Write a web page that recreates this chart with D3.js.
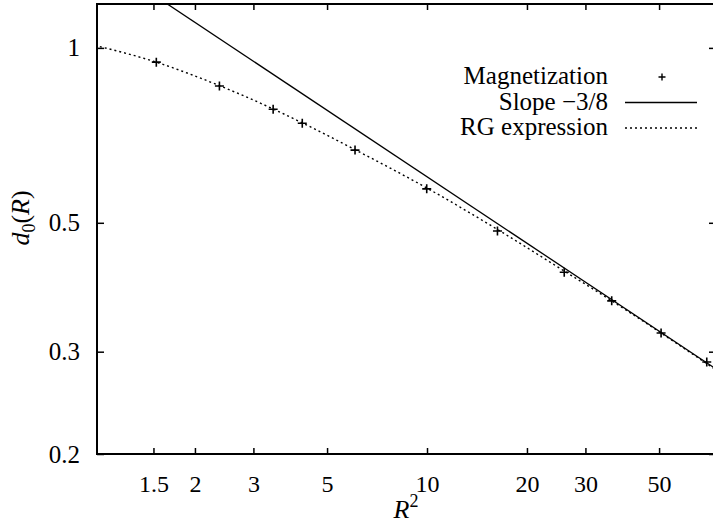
<!DOCTYPE html>
<html>
<head>
<meta charset="utf-8">
<script src="https://cdn.jsdelivr.net/npm/d3@7"></script>
<style>
  body { margin: 0; background: #fff; }
  svg { display: block; }
  text { font-family: "Liberation Serif", "Times New Roman", serif; fill: #000; }
</style>
</head>
<body>
<svg width="713" height="525"></svg>
<script>
// values (log-log plot)
const X_TICKS = [1.5, 2, 3, 5, 10, 20, 30, 50];
const Y_TICKS = [0.2, 0.3, 0.5, 1];
const X_DOMAIN = [1.014, 74.2];
const Y_DOMAIN = [0.2, 1.19];

const magR2 = [1.53, 2.37, 3.44, 4.21, 6.07, 9.98, 16.3, 25.9, 36.0, 50.7, 69.6];
const magD0 = [0.945, 0.860, 0.784, 0.742, 0.667, 0.572, 0.484, 0.411, 0.367, 0.323, 0.288];

const slopeR2 = [1.0, 75];
const slopeD0 = [1.44, 0.279];

const rgR2 = [1.0, 1.53, 2.37, 3.44, 4.21, 6.07, 9.98, 16.3, 25.9, 36.0, 50.7, 75];
const rgD0 = [1.01, 0.945, 0.861, 0.785, 0.743, 0.668, 0.574, 0.487, 0.413, 0.367, 0.323, 0.278];

const LEGEND = ['Magnetization', 'Slope \u22123/8', 'RG expression'];

const svg = d3.select('svg');
const margin = { top: 4, right: -3, bottom: 71, left: 97 };
const width = +svg.attr('width') - margin.left - margin.right;
const height = +svg.attr('height') - margin.top - margin.bottom;
const g = svg.append('g').attr('transform', `translate(${margin.left},${margin.top})`);

const x = d3.scaleLog().domain(X_DOMAIN).range([0, width]);
const y = d3.scaleLog().domain(Y_DOMAIN).range([height, 0]);

svg.append('defs').append('clipPath').attr('id', 'clip')
  .append('rect').attr('width', width).attr('height', height);

// axes, ticks pointing inwards like gnuplot
const bottom = g.append('g')
    .attr('transform', `translate(0,${height})`)
    .call(d3.axisBottom(x).tickValues(X_TICKS).tickFormat(d3.format('')).tickSize(-6).tickPadding(21));
bottom.selectAll('text').attr('font-size', 24);

g.append('g')
    .call(d3.axisTop(x).tickValues(X_TICKS).tickFormat('').tickSize(-6));

const left = g.append('g')
    .call(d3.axisLeft(y).tickValues(Y_TICKS).tickFormat(d3.format('')).tickSize(-7).tickPadding(17));
left.selectAll('text').attr('font-size', 25);

g.append('g')
    .attr('transform', `translate(${width},0)`)
    .call(d3.axisRight(y).tickValues(Y_TICKS).tickFormat('').tickSize(-7));

g.selectAll('.domain').remove();
g.selectAll('.tick line').attr('stroke', '#000').attr('stroke-width', 1.5);

g.append('rect')
    .attr('width', width)
    .attr('height', height)
    .attr('fill', 'none')
    .attr('stroke', '#000')
    .attr('stroke-width', 2);

// curves
const line = d3.line().x(d => x(d[0])).y(d => y(d[1]));
const plot = g.append('g').attr('clip-path', 'url(#clip)');

plot.append('path')
    .datum(d3.zip(slopeR2, slopeD0))
    .attr('d', line)
    .attr('fill', 'none')
    .attr('stroke', '#000')
    .attr('stroke-width', 1.3);

plot.append('path')
    .datum(d3.zip(rgR2, rgD0))
    .attr('d', line.curve(d3.curveMonotoneX))
    .attr('fill', 'none')
    .attr('stroke', '#000')
    .attr('stroke-width', 1.4)
    .attr('stroke-dasharray', '2,3');

const plus = 'M-4.5,0H4.5M0,-4.5V4.5';
plot.selectAll('.mag')
  .data(d3.zip(magR2, magD0))
  .enter().append('path')
    .attr('class', 'mag')
    .attr('transform', d => `translate(${x(d[0])},${y(d[1])})`)
    .attr('d', plus)
    .attr('stroke', '#000')
    .attr('stroke-width', 1.6);

// legend
const legend = svg.append('g')
  .selectAll('g')
  .data(LEGEND)
  .enter().append('g')
    .attr('transform', (d, i) => `translate(0,${84 + i * 25.5})`);

legend.append('text')
    .attr('x', 608)
    .attr('text-anchor', 'end')
    .attr('font-size', 25)
    .text(d => d);

legend.filter((d, i) => i === 0).append('path')
    .attr('transform', 'translate(662,-7)')
    .attr('d', 'M-3.5,0H3.5M0,-3.5V3.5')
    .attr('stroke', '#000')
    .attr('stroke-width', 1.4);

legend.filter((d, i) => i > 0).append('line')
    .attr('x1', 625).attr('x2', 697)
    .attr('y1', -7).attr('y2', -7)
    .attr('stroke', '#000')
    .attr('stroke-width', 1.3)
    .attr('stroke-dasharray', (d, i) => i === 1 ? '2,3' : null);

// axis titles
const ylab = svg.append('text')
    .attr('transform', 'translate(29,218) rotate(-90)')
    .attr('text-anchor', 'middle')
    .attr('font-size', 26);
ylab.append('tspan').attr('font-style', 'italic').text('d');
ylab.append('tspan').attr('font-size', 18).attr('dy', 6).text('0');
ylab.append('tspan').attr('dy', -6).text('(');
ylab.append('tspan').attr('font-style', 'italic').text('R');
ylab.append('tspan').text(')');

const xlab = svg.append('text')
    .attr('x', 406)
    .attr('y', 518)
    .attr('text-anchor', 'middle')
    .attr('font-size', 26);
xlab.append('tspan').attr('font-style', 'italic').text('R');
xlab.append('tspan').attr('font-size', 18).attr('dy', -11).text('2');
</script>
</body>
</html>
